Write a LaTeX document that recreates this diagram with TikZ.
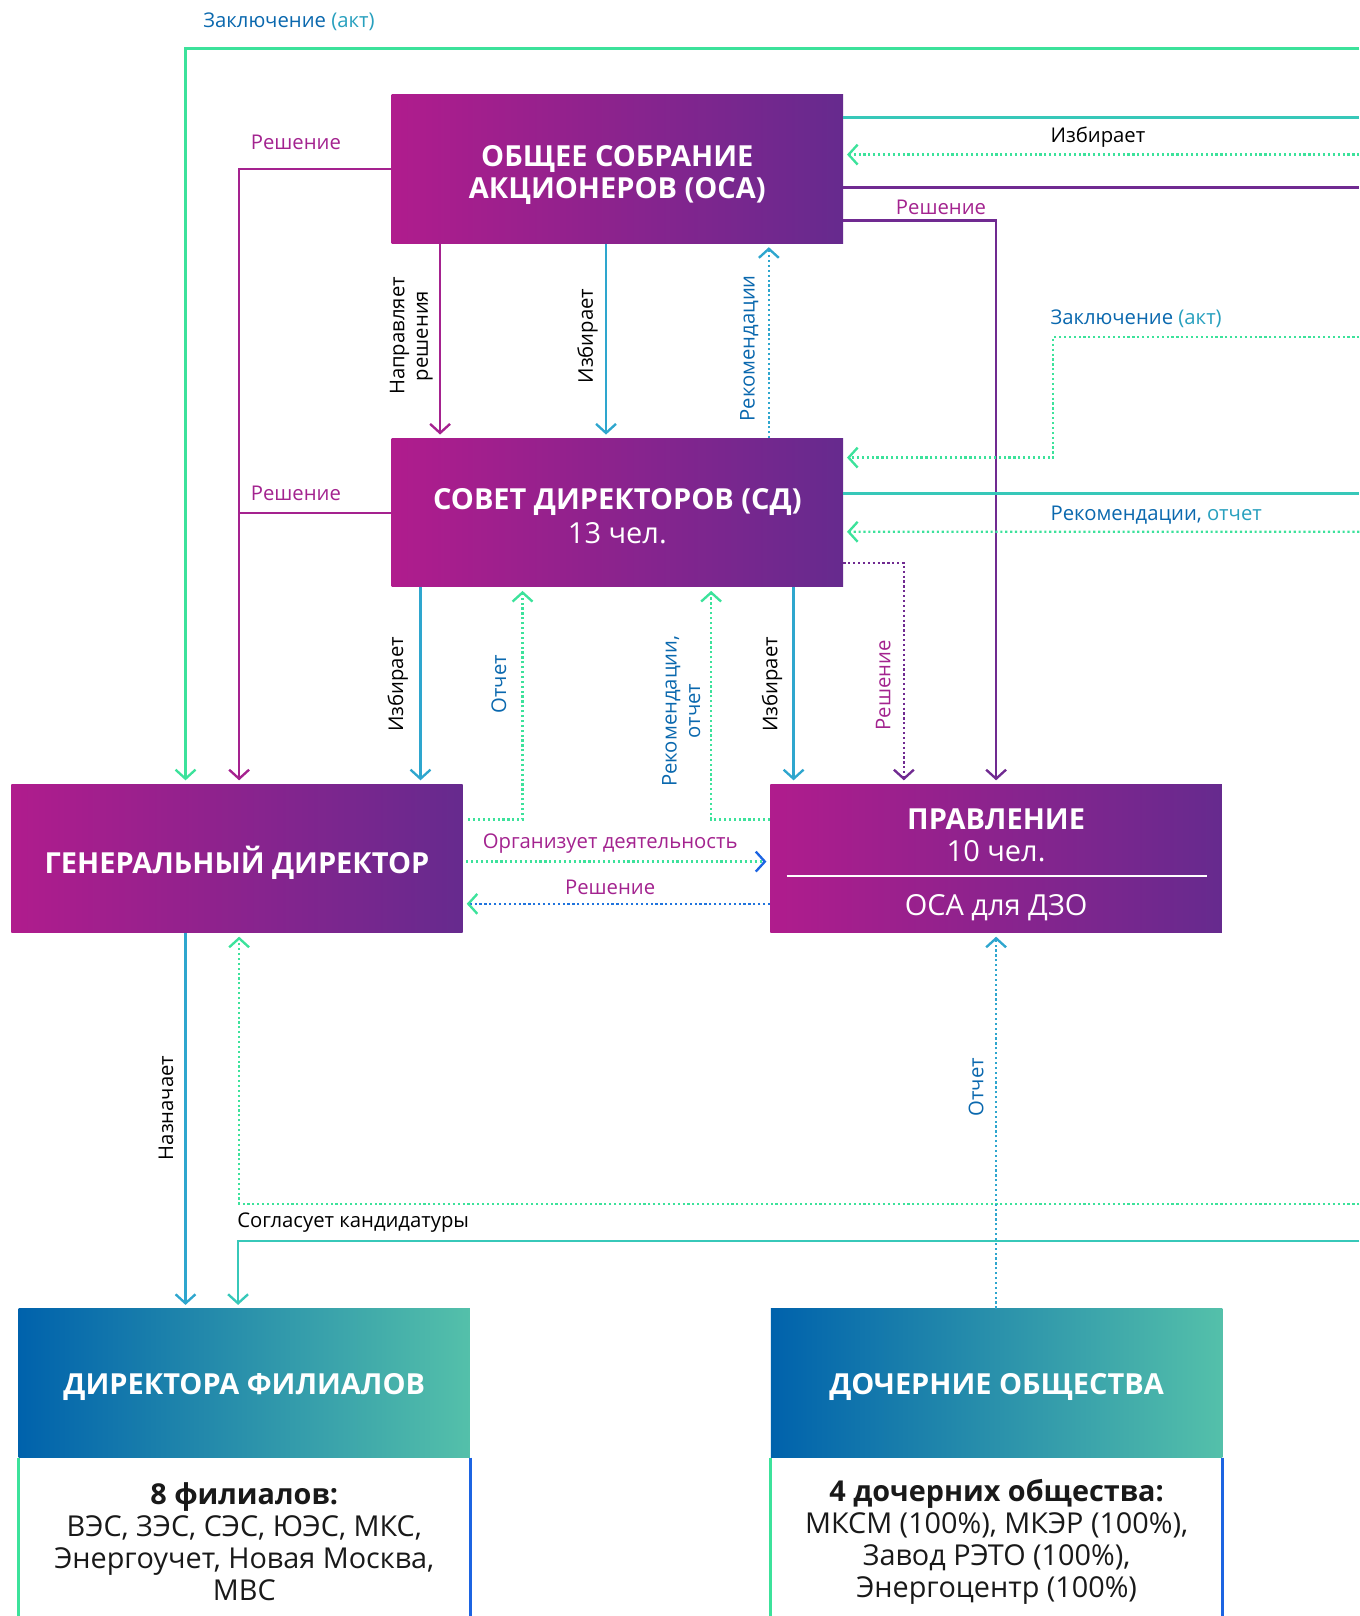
\documentclass[tikz,border=0pt]{standalone}
\usepackage{fontspec}
\setmainfont{Open Sans}
\usepackage{xcolor}
\usepackage{tikz}
\usetikzlibrary{
  arrows.meta,
  positioning,
  calc
}
\definecolor{boxmag}{RGB}{176, 28, 141}
\definecolor{boxpurp}{RGB}{102, 42, 142}
\definecolor{boxblue}{RGB}{0, 98, 172}
\definecolor{boxteal}{RGB}{84, 192, 170}
\definecolor{lnkgreen}{RGB}{60, 226, 155}
\definecolor{lnkblue}{RGB}{46, 166, 206}
\definecolor{lnkteal}{RGB}{55, 200, 185}
\definecolor{lnkmag}{RGB}{165, 34, 143}
\definecolor{lnkpurp}{RGB}{112, 42, 145}
\definecolor{txtblue}{RGB}{10, 104, 174}
\definecolor{txtteal}{RGB}{40, 160, 190}
\definecolor{txtmag}{RGB}{163, 35, 143}

\tikzset{
  topbox/.style={rectangle, left color=boxmag, right color=boxpurp, minimum width=8.76cm, minimum height=2.88cm, inner sep=0pt},
  basebox/.style={rectangle, left color=boxblue, right color=boxteal, minimum width=8.76cm, minimum height=2.88cm, inner sep=0pt},
  boxtitle/.style={text=white, align=center, inner sep=0pt, font=\fontsize{16}{17.5}\selectfont\bfseries},
  bodytext/.style={align=center, text=black!90, inner sep=0pt, font=\fontsize{15.9}{17.6}\selectfont},
  arrowhd/.style={-{Straight Barb[length=5pt, width=11pt]}, shorten >=2pt},
  solidlink/.style={line width=1.3pt},
  dotlink/.style={line width=1.3pt, dash pattern=on 1.2pt off 1.5pt},
  lbl/.style={font=\fontsize{11.2}{13}\selectfont, inner sep=0pt},
  vlbl/.style={lbl, rotate=90, align=center}
}

\begin{document}
\begin{tikzpicture}[x=0.02cm, y=-0.02cm]
  \useasboundingbox (0,0) rectangle (1319,1568);
  % boxes
  \node[topbox] (osa) at (599, 164) {};
  \node[boxtitle] (osatitle) at (599, 169.5) {ОБЩЕЕ СОБРАНИЕ\\АКЦИОНЕРОВ (ОСА)};
  \node[topbox] (sd) at (599, 497.5) {};
  \node[boxtitle] (sdtitle) at (599, 501) {СОВЕТ ДИРЕКТОРОВ (СД)\\[1pt]{\mdseries 13 чел.}};
  \node[topbox] (gd) at (230, 833) {};
  \node[boxtitle] (gdtitle) at (230, 837) {ГЕНЕРАЛЬНЫЙ ДИРЕКТОР};
  \node[topbox] (pr) at (966.5, 833) {};
  \node[boxtitle] (prtitle) at (966.5, 810.5) {ПРАВЛЕНИЕ\\{\mdseries 10 чел.}};
  \draw[white, line width=0.6pt] ($(pr.west)+(16,17)$) -- ($(pr.east)+(-15,17)$);
  \node[boxtitle, font=\fontsize{16}{17.5}\selectfont] (prosa) at (966.5, 881) {ОСА для ДЗО};
  \node[basebox] (df) at (237, 1342) {};
  \node[boxtitle] (dftitle) at (237, 1346) {ДИРЕКТОРА ФИЛИАЛОВ};
  \node[basebox] (do) at (967, 1342) {};
  \node[boxtitle] (dotitle) at (967, 1346) {ДОЧЕРНИЕ ОБЩЕСТВА};
  \draw[lnkgreen, line width=1.4pt] (df.south west) -- ++(0,160);
  \draw[lnkblue!60!blue, line width=1.4pt] (df.south east) -- ++(0,160);
  \draw[lnkgreen, line width=1.4pt] (do.south west) -- ++(0,160);
  \draw[lnkblue!60!blue, line width=1.4pt] (do.south east) -- ++(0,160);
  \node[bodytext] (dfbody) at (237, 1496) {\textbf{8 филиалов:}\\ВЭС, ЗЭС, СЭС, ЮЭС, МКС,\\Энергоучет, Новая Москва,\\МВС};
  \node[bodytext] (dobody) at (967, 1496) {\textbf{4 дочерних общества:}\\МКСМ (100\%), МКЭР (100\%),\\Завод РЭТО (100\%),\\Энергоцентр (100\%)};
  % free ends at the right edge
  \coordinate (e1) at (1319, 47);
  \coordinate (e2) at (1319, 114);
  \coordinate (e3) at (1319, 150);
  \coordinate (e4) at (1319, 182);
  \coordinate (e5) at (1319, 327);
  \coordinate (bend1) at (1022, 327);
  \coordinate (e6) at (1319, 479);
  \coordinate (e7) at (1319, 516);
  \coordinate (e8) at (1319, 1168);
  \coordinate (e9) at (1319, 1204);
  % links around OSA
  \draw[solidlink, lnkgreen, arrowhd] (e1) -| ($(gd.north)+(-50,0)$);
  \node[lbl, anchor=west] (zakl1) at (197, 21) {\textcolor{txtblue}{Заключение} \textcolor{txtteal}{(акт)}};
  \draw[solidlink, lnkmag, arrowhd] (osa.west) -| ($(gd.north)+(2,0)$);
  \node[lbl, anchor=west, text=txtmag] (resh1) at (243, 138) {Решение};
  \draw[solidlink, lnkmag] (sd.west) -- ($(sd.west)+(-148,0)$);
  \node[lbl, anchor=west, text=txtmag] (resh2) at (243, 479) {Решение};
  \draw[solidlink, lnkteal] ($(osa.east)+(0,-50)$) -- (e2);
  \draw[dotlink, lnkgreen, arrowhd] (e3) -- ($(osa.east)+(0,-14)$);
  \node[lbl, anchor=west] (izb1) at (1019, 133) {Избирает};
  \draw[solidlink, lnkpurp] ($(osa.east)+(0,18)$) -- (e4);
  \draw[solidlink, lnkpurp, arrowhd] ($(osa.east)+(0,50)$) -| (pr.north);
  \node[lbl, anchor=west, text=txtmag] (resh3) at (869, 201) {Решение};
  \draw[solidlink, lnkmag, arrowhd] ($(osa.south)+(-172,0)$) -- ($(sd.north)+(-172,0)$);
  \node[vlbl] (napr) at (399, 326) {Направляет\\решения};
  \draw[solidlink, lnkblue, arrowhd] ($(osa.south)+(-11,0)$) -- ($(sd.north)+(-11,0)$);
  \node[vlbl] (izb2) at (570, 326) {Избирает};
  \draw[dotlink, lnkblue, arrowhd] ($(sd.north)+(147,0)$) -- ($(osa.south)+(147,0)$);
  \node[vlbl, text=txtblue] (rek1) at (727, 338) {Рекомендации};
  % links around SD
  \draw[dotlink, lnkgreen, arrowhd] (e5) -- (bend1) |- ($(sd.east)+(0,-53.5)$);
  \node[lbl, anchor=west] (zakl2) at (1019, 309) {\textcolor{txtblue}{Заключение} \textcolor{txtteal}{(акт)}};
  \draw[solidlink, lnkteal] ($(sd.east)+(0,-18.5)$) -- (e6);
  \draw[dotlink, lnkgreen, arrowhd] (e7) -- ($(sd.east)+(0,18.5)$);
  \node[lbl, anchor=west] (rek2) at (1019, 500) {\textcolor{txtblue}{Рекомендации,} \textcolor{txtteal}{отчет}};
  \draw[dotlink, lnkpurp, arrowhd] ($(sd.east)+(0,48.5)$) -| ($(pr.north)+(-89.5,0)$);
  \node[vlbl, text=txtmag] (resh4) at (857, 665) {Решение};
  \draw[solidlink, lnkblue, arrowhd] ($(sd.south)+(-191,0)$) -- ($(gd.north)+(178,0)$);
  \node[vlbl] (izb3) at (386, 664) {Избирает};
  \draw[dotlink, lnkgreen, arrowhd] ($(gd.east)+(5,-38)$) -| ($(sd.south)+(-92,0)$);
  \node[vlbl, text=txtblue] (otch1) at (484, 664) {Отчет};
  \draw[dotlink, lnkgreen, arrowhd] ($(pr.west)+(0,-38)$) -| ($(sd.south)+(91,0)$);
  \node[vlbl, text=txtblue] (rek3) at (661, 690) {Рекомендации,\\отчет};
  \draw[solidlink, lnkblue, arrowhd] ($(sd.south)+(171,0)$) -- ($(pr.north)+(-196.5,0)$);
  \node[vlbl] (izb4) at (749, 664) {Избирает};
  % GD and PR
  \draw[dotlink, lnkgreen, -{Straight Barb[length=5pt, width=11pt, color=lnkblue!60!blue]}, shorten >=2pt] ($(gd.east)+(3,3)$) -- ($(pr.west)+(0,3)$);
  \node[lbl, text=txtmag] (org) at (592, 819) {Организует деятельность};
  \draw[dotlink, lnkblue!70!blue, -{Straight Barb[length=5pt, width=11pt, color=lnkgreen]}, shorten >=2pt] ($(pr.west)+(0,44)$) -- ($(gd.east)+(0,44)$);
  \node[lbl, text=txtmag] (resh5) at (592, 861) {Решение};
  % lower links
  \draw[solidlink, lnkblue, arrowhd] ($(gd.south)+(-50,0)$) -- ($(df.north)+(-57,0)$);
  \node[vlbl] (nazn) at (161, 1075) {Назначает};
  \draw[dotlink, lnkgreen, arrowhd] (e8) -| ($(gd.south)+(2,0)$);
  \draw[solidlink, lnkteal, arrowhd] (e9) -| ($(df.north)+(-6,0)$);
  \node[lbl, anchor=west] (sogl) at (230, 1186) {Согласует кандидатуры};
  \draw[dotlink, lnkblue, arrowhd] (do.north -| pr.south) -- (pr.south);
  \node[vlbl, text=txtblue] (otch2) at (947, 1055) {Отчет};
\end{tikzpicture}
\end{document}
